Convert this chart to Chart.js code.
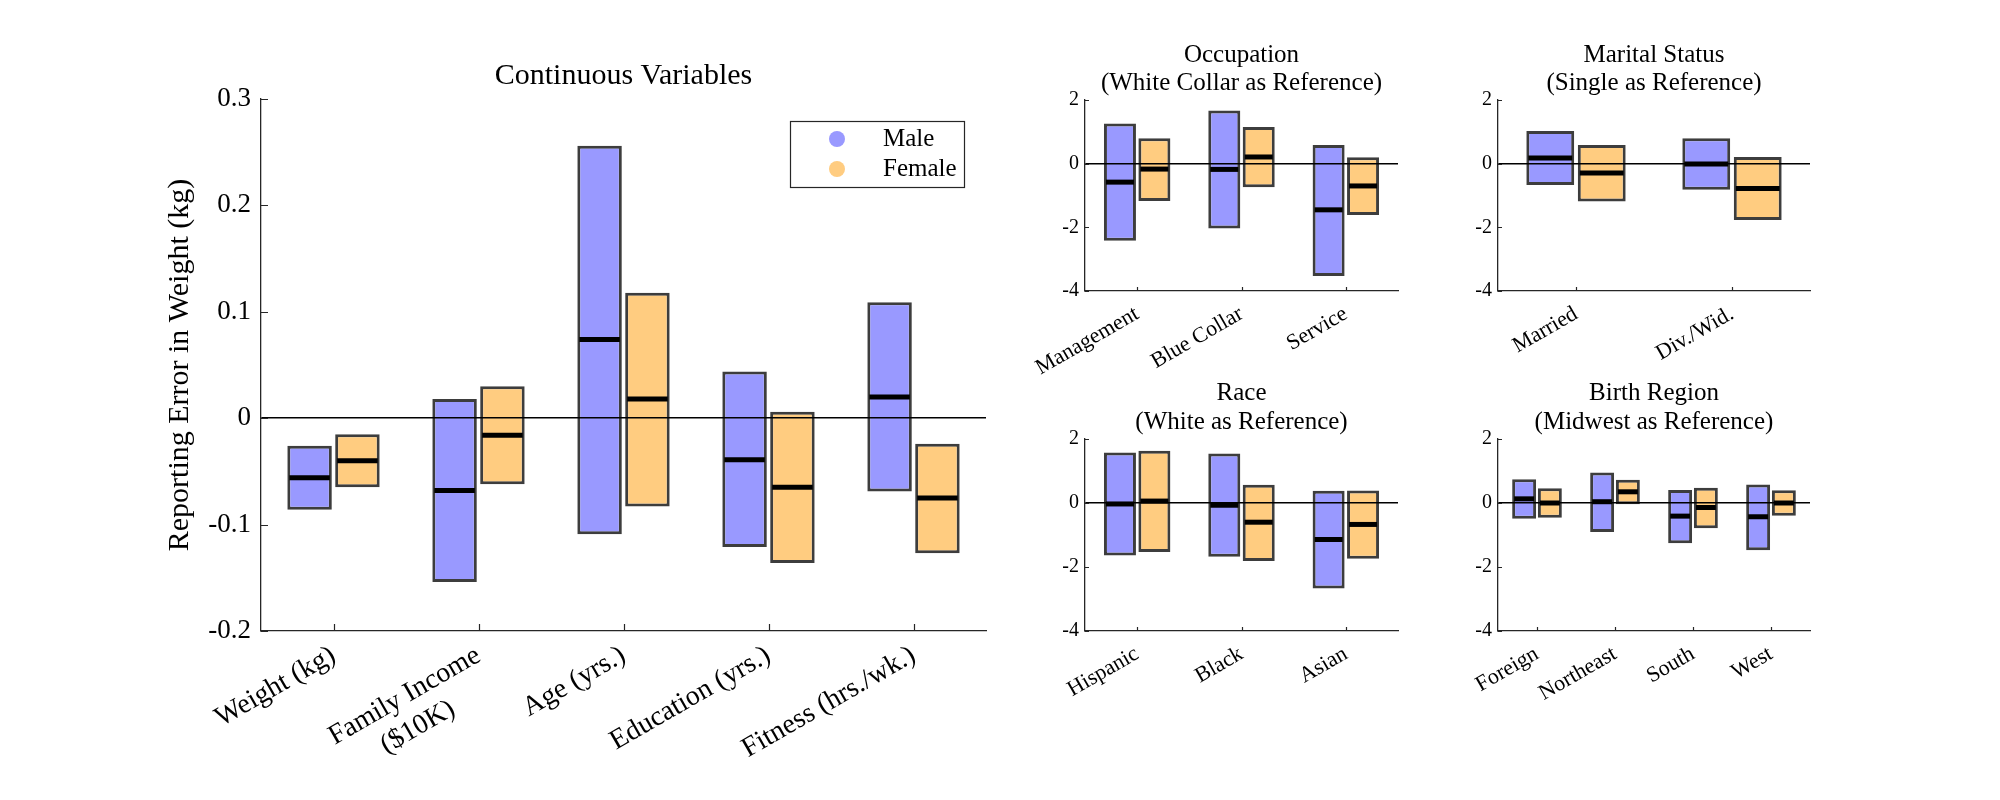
<!DOCTYPE html>
<html lang="en">
<head>
<meta charset="UTF-8">
<title>Reporting Error in Weight</title>
<script src="https://cdn.jsdelivr.net/npm/chart.js"></script>
<style>
  body { margin: 0; background: #fff; }
  #page { position: relative; width: 2000px; height: 800px; overflow: hidden; background: #fff; }
  #page canvas { position: absolute; }
</style>
</head>
<body>
<div id="page">
  <canvas id="contChart"></canvas>
  <canvas id="occChart"></canvas>
  <canvas id="marChart"></canvas>
  <canvas id="raceChart"></canvas>
  <canvas id="birthChart"></canvas>
</div>

<script>
// ---- values (low / high / median of each box) ----
const NB = '\u00a0';
const contCats = ['Weight (kg)', ['Family Income', '($10K)' + NB.repeat(7)], 'Age (yrs.)', 'Education (yrs.)', 'Fitness (hrs./wk.)'];
const contMaleLo  = [-0.086, -0.154, -0.109, -0.121, -0.069];
const contMaleHi  = [-0.026, 0.018, 0.256, 0.044, 0.109];
const contMaleMed = [-0.056, -0.068, 0.074, -0.039, 0.020];
const contFemLo   = [-0.065, -0.062, -0.083, -0.136, -0.127];
const contFemHi   = [-0.015, 0.030, 0.118, 0.006, -0.024];
const contFemMed  = [-0.040, -0.016, 0.018, -0.065, -0.075];
const contTicks   = [-0.2, -0.1, 0, 0.1, 0.2, 0.3];

const occCats = ['Management', 'Blue Collar', 'Service'];
const occMaleLo  = [-2.42, -2.04, -3.53];
const occMaleHi  = [1.26, 1.67, 0.59];
const occMaleMed = [-0.58, -0.18, -1.45];
const occFemLo   = [-1.17, -0.74, -1.61];
const occFemHi   = [0.80, 1.15, 0.20];
const occFemMed  = [-0.17, 0.21, -0.70];

const marCats = ['Married', 'Div./Wid.'];
const marMaleLo  = [-0.67, -0.82];
const marMaleHi  = [1.03, 0.80];
const marMaleMed = [0.18, -0.01];
const marFemLo   = [-1.19, -1.77];
const marFemHi   = [0.59, 0.21];
const marFemMed  = [-0.29, -0.78];

const raceCats = ['Hispanic', 'Black', 'Asian'];
const raceMaleLo  = [-1.64, -1.68, -2.67];
const raceMaleHi  = [1.58, 1.55, 0.38];
const raceMaleMed = [-0.03, -0.07, -1.14];
const raceFemLo   = [-1.53, -1.81, -1.74];
const raceFemHi   = [1.63, 0.57, 0.39];
const raceFemMed  = [0.06, -0.60, -0.67];

const birthCats = ['Foreign', 'Northeast', 'South', 'West'];
const birthMaleLo  = [-0.49, -0.91, -1.26, -1.48];
const birthMaleHi  = [0.74, 0.95, 0.41, 0.58];
const birthMaleMed = [0.13, 0.04, -0.41, -0.43];
const birthFemLo   = [-0.46, -0.04, -0.79, -0.40];
const birthFemHi   = [0.46, 0.73, 0.48, 0.40];
const birthFemMed  = [0.00, 0.35, -0.14, 0.00];

const subTicks = [-4, -2, 0, 2];

const FONT = "'Liberation Serif', 'Times New Roman', serif";
const MALE = '#9999ff';
const FEMALE = '#ffcc80';
const EDGE = 'rgba(45,45,45,0.92)';
const AXIS = '#262626';

// thick black median line across each box
const medianLines = {
  id: 'medianLines',
  afterDraw(chart) {
    const ctx = chart.ctx, y = chart.scales.y;
    ctx.save();
    ctx.strokeStyle = '#000';
    ctx.lineWidth = 5;
    chart.data.datasets.forEach((ds, d) => {
      chart.getDatasetMeta(d).data.forEach((bar, i) => {
        const py = y.getPixelForValue(ds.medians[i]);
        ctx.beginPath();
        ctx.moveTo(bar.x - bar.width / 2 + 2, py);
        ctx.lineTo(bar.x + bar.width / 2 - 2, py);
        ctx.stroke();
      });
    });
    ctx.restore();
  }
};

// matlab style ticks pointing into the plot
const inwardTicks = {
  id: 'inwardTicks',
  afterDraw(chart, args, o) {
    const {ctx, chartArea: a, scales: {x, y}} = chart;
    const len = o.len || 5;
    ctx.save();
    ctx.strokeStyle = AXIS;
    ctx.lineWidth = 1.2;
    ctx.beginPath();
    y.ticks.forEach((t, i) => {
      const py = Math.round(y.getPixelForTick(i)) + 0.5;
      ctx.moveTo(a.left, py); ctx.lineTo(a.left + len, py);
    });
    x.ticks.forEach((t, i) => {
      const px = Math.round(x.getPixelForTick(i)) + 0.5;
      ctx.moveTo(px, a.bottom); ctx.lineTo(px, a.bottom - len);
    });
    ctx.stroke();
    ctx.restore();
  }
};

// title lines centred over the plot area
const panelTitle = {
  id: 'panelTitle',
  afterDraw(chart, args, o) {
    const {ctx, chartArea: a} = chart;
    ctx.save();
    ctx.fillStyle = '#000';
    ctx.font = o.size + 'px ' + FONT;
    ctx.textAlign = 'center';
    ctx.textBaseline = 'middle';
    o.lines.forEach((t, i) => ctx.fillText(t, (a.left + a.right) / 2, a.top + o.offsets[i]));
    ctx.restore();
  }
};

// boxed legend in the top right corner of the main plot
const boxLegend = {
  id: 'boxLegend',
  afterDraw(chart, args, o) {
    if (!o.show) return;
    const {ctx, chartArea: a} = chart;
    const bw = 174, bh = 66;
    const bx = a.right - 22 - bw, by = a.top + 22;
    ctx.save();
    ctx.fillStyle = '#fff';
    ctx.fillRect(bx, by, bw, bh);
    ctx.strokeStyle = AXIS;
    ctx.lineWidth = 1.2;
    ctx.strokeRect(bx + 0.5, by + 0.5, bw, bh);
    ctx.font = '25px ' + FONT;
    ctx.textBaseline = 'middle';
    chart.data.datasets.forEach((ds, i) => {
      const cy = by + 18 + i * 30;
      ctx.fillStyle = ds.backgroundColor;
      ctx.beginPath();
      ctx.arc(bx + 47, cy, 8, 0, 2 * Math.PI);
      ctx.fill();
      ctx.fillStyle = '#000';
      ctx.fillText(ds.label, bx + 93, cy);
    });
    ctx.restore();
  }
};

function makePanel(id, p) {
  // p.box = plot area in page pixels
  const cv = document.getElementById(id);
  const w = (p.box.right - p.box.left) + p.yw + p.rp;
  const h = (p.box.bottom - p.box.top) + p.tp + p.xh;
  cv.width = w; cv.height = h;
  cv.style.left = (p.box.left - p.yw) + 'px';
  cv.style.top = (p.box.top - p.tp) + 'px';

  const yScale = {
    min: p.ticks[0],
    max: p.ticks[p.ticks.length - 1],
    afterBuildTicks(s) { s.ticks = p.ticks.map(v => ({value: v})); },
    afterFit(s) { s.width = p.yw; },
    grid: {
      z: 1,
      drawTicks: false,
      lineWidth: 1.5,
      color: c => (c.tick && Math.abs(c.tick.value) < 1e-9) ? '#000' : 'rgba(0,0,0,0)'
    },
    border: { display: true, color: AXIS, width: 1.3, z: 2 },
    ticks: {
      color: '#000',
      padding: p.ytPad,
      font: { family: FONT, size: p.tickSize },
      callback: v => p.fmt(v)
    }
  };
  if (p.ytitle) {
    yScale.title = {
      display: true, text: p.ytitle, color: '#000',
      font: { family: FONT, size: 30 },
      padding: { top: 62, bottom: 0 }
    };
  }

  return new Chart(cv, {
    type: 'bar',
    data: {
      labels: p.cats,
      datasets: [
        { label: 'Male', data: p.mLo.map((v, i) => [v, p.mHi[i]]), medians: p.mMed,
          backgroundColor: MALE, borderColor: EDGE, borderWidth: 3, borderSkipped: false },
        { label: 'Female', data: p.fLo.map((v, i) => [v, p.fHi[i]]), medians: p.fMed,
          backgroundColor: FEMALE, borderColor: EDGE, borderWidth: 3, borderSkipped: false }
      ]
    },
    options: {
      responsive: false,
      animation: false,
      devicePixelRatio: 1,
      categoryPercentage: 0.66,
      barPercentage: 0.93,
      layout: { padding: { top: p.tp, left: 0, right: p.rp, bottom: 0 } },
      plugins: {
        legend: { display: false },
        tooltip: { enabled: false },
        title: { display: false },
        panelTitle: { lines: p.title, offsets: p.titleOff, size: p.titleSize },
        inwardTicks: { len: p.tickLen },
        boxLegend: { show: !!p.legend }
      },
      scales: {
        x: {
          offset: true,
          afterFit(s) { s.height = p.xh; },
          grid: { display: false },
          border: { display: true, color: AXIS, width: 1.3 },
          ticks: {
            minRotation: 30, maxRotation: 30, autoSkip: false,
            color: '#000', padding: p.xtPad,
            font: { family: FONT, size: p.labelSize }
          }
        },
        y: yScale
      }
    },
    plugins: [medianLines, inwardTicks, panelTitle, boxLegend]
  });
}

const fmtCont = v => (v === 0 ? '0' : v.toFixed(1));
const fmtSub = v => String(v);

makePanel('contChart', {
  box: { left: 261, top: 99, right: 986, bottom: 631 },
  yw: 161, rp: 14, tp: 69, xh: 169,
  cats: contCats, ticks: contTicks, fmt: fmtCont,
  mLo: contMaleLo, mHi: contMaleHi, mMed: contMaleMed,
  fLo: contFemLo, fHi: contFemHi, fMed: contFemMed,
  title: ['Continuous Variables'], titleOff: [-23], titleSize: 30,
  ytitle: 'Reporting Error in Weight (kg)',
  tickSize: 27, labelSize: 28, ytPad: 10, xtPad: 0, tickLen: 7, legend: true
});

const subBase = { yw: 70, rp: 10, tp: 70, xh: 95, ticks: subTicks, fmt: fmtSub,
  titleSize: 25, titleOff: [-45, -17],
  tickSize: 20, labelSize: 22, ytPad: 6, xtPad: 2, tickLen: 4 };

makePanel('occChart', Object.assign({}, subBase, {
  box: { left: 1085, top: 100, right: 1398, bottom: 291 },
  cats: occCats, title: ['Occupation', '(White Collar as Reference)'],
  mLo: occMaleLo, mHi: occMaleHi, mMed: occMaleMed,
  fLo: occFemLo, fHi: occFemHi, fMed: occFemMed
}));

makePanel('marChart', Object.assign({}, subBase, {
  box: { left: 1498, top: 100, right: 1810, bottom: 291 },
  cats: marCats, title: ['Marital Status', '(Single as Reference)'],
  mLo: marMaleLo, mHi: marMaleHi, mMed: marMaleMed,
  fLo: marFemLo, fHi: marFemHi, fMed: marFemMed
}));

makePanel('raceChart', Object.assign({}, subBase, {
  box: { left: 1085, top: 439, right: 1398, bottom: 631 },
  cats: raceCats, title: ['Race', '(White as Reference)'], titleOff: [-46, -17],
  mLo: raceMaleLo, mHi: raceMaleHi, mMed: raceMaleMed,
  fLo: raceFemLo, fHi: raceFemHi, fMed: raceFemMed
}));

makePanel('birthChart', Object.assign({}, subBase, {
  box: { left: 1498, top: 439, right: 1810, bottom: 631 },
  cats: birthCats, title: ['Birth Region', '(Midwest as Reference)'], titleOff: [-46, -17],
  mLo: birthMaleLo, mHi: birthMaleHi, mMed: birthMaleMed,
  fLo: birthFemLo, fHi: birthFemHi, fMed: birthFemMed
}));
</script>
</body>
</html>
